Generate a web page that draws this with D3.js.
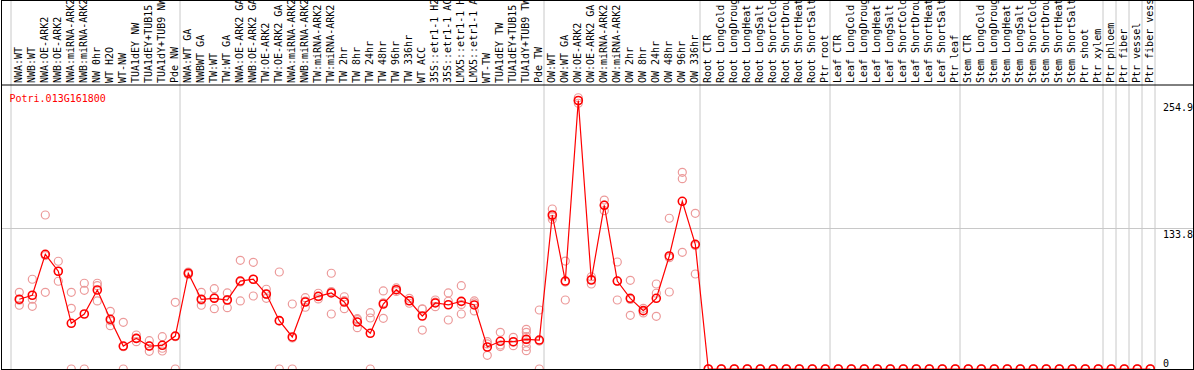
<!DOCTYPE html>
<html>
<head>
<meta charset="utf-8">
<script src="https://cdn.jsdelivr.net/npm/d3@7"></script>
<style>
body { margin: 0; background: #fff; }
svg { display: block; }
text { font-family: "DejaVu Sans Mono", monospace; font-size: 10px; }
</style>
</head>
<body>
<div id="chart"></div>
<script>
var W = 1194, H = 370;

var gene = "Potri.013G161800";

var labels = ["NWA:WT","NWB:WT","NWA:OE-ARK2","NWB:OE-ARK2","NWA:miRNA-ARK2","NWB:miRNA-ARK2","NW 0hr","WT H2O","WT-NW","TUA1dEY NW","TUA1dEY+TUB15","TUA1dY+TUB9 NW","Pde NW",
	"NWA:WT GA","NWBWT GA","TW:WT","TW:WT GA","NWA:OE-ARK2 GA","NWB:OE-ARK2 GA","TW:OE-ARK2","TW:OE-ARK2 GA","NWA:miRNA-ARK2","NWB:miRNA-ARK2","TW:miRNA-ARK2","TW:miRNA-ARK2","TW 2hr","TW 8hr","TW 24hr","TW 48hr","TW 96hr","TW 336hr","WT ACC","35S::etr1-1 H2","35S::etr1-1 AC","LMX5::etr1-1 H","LMX5::etr1-1 A","WT-TW","TUA1dEY TW","TUA1dEY+TUB15","TUA1dY+TUB9 TW","Pde TW",
	"OW:WT","OW:WT GA","OW:OE-ARK2","OW:OE-ARK2 GA","OW:miRNA-ARK2","OW:miRNA-ARK2","OW 2hr","OW 8hr","OW 24hr","OW 48hr","OW 96hr","OW 336hr",
	"Root CTR","Root LongCold","Root LongDroug","Root LongHeat","Root LongSalt","Root ShortCold","Root ShortDrou","Root ShortHeat","Root ShortSalt","Ptr root",
	"Leaf CTR","Leaf LongCold","Leaf LongDroug","Leaf LongHeat","Leaf LongSalt","Leaf ShortCold","Leaf ShortDrou","Leaf ShortHeat","Leaf ShortSalt","Ptr leaf",
	"Stem CTR","Stem LongCold","Stem LongDroug","Stem LongHeat","Stem LongSalt","Stem ShortCold","Stem ShortDrou","Stem ShortHeat","Stem ShortSalt","Ptr shoot","Ptr xylem","Ptr phloem","Ptr fiber","Ptr vessel","Ptr fiber vess"];

// index of first sample in each group (last = end)
var groupStarts = [0, 13, 41, 53, 63, 73, 84, 85, 86, 87, 88];

var means = [66.2,70.0,108.9,92.8,43.4,52.2,75.0,47.2,21.8,29.1,21.8,22.5,31.3,
	90.9,66.2,67.1,65.5,83.5,85.2,71.2,45.9,30.4,63.6,69.0,72.2,63.6,44.6,33.9,61.7,75.3,64.8,50.3,62.7,61.0,64.2,60.8,20.9,26.3,25.9,28.2,27.5,
	146.2,83.5,254.9,84.5,155.4,83.5,67.1,55.4,67.1,107.3,159.2,118.4,
	0,0,0,0,0,0,0,0,0,0,
	0,0,0,0,0,0,0,0,0,0,
	0,0,0,0,0,0,0,0,0,0,0,0,0,0,0];

var reps = [[72.8,65.3,60.5],[85.2,66.2,59.5],[146.2,107.7,72.8],[102.3,92.8,83.3],[72.8,57.6,0],[81.4,74.7,0],[81.4,79.1,64.6],[54.8,45.7,41.1],[44.3,21.1,0],[32.3,29,25.9],[26.9,21.8,16.8],[30.7,19.7,17.1],[63.3,30.7,0],
	[92,91,89.7],[72.8,65.3,60.5],[76.3,67.7,57.3],[72.2,66,58.2],[103.2,82.7,64.6],[101.3,85,69.3],[75.7,70.8,67.1],[92.1,45.6,0],[61.7,29.5,0],[67.7,64.5,58.6],[71.9,68.6,66.5],[90.9,73.5,52.2],[68.6,64.9,57.3],[47.8,46.8,39.2],[53.5,48.4,0],[74.1,62.9,48.1],[77,75.3,73.6],[67.1,64.9,62.4],[57.2,56.7,37.0],[65.5,63.4,59.2],[72.2,64.3,46.5],[79.1,61.3,52.2],[64.6,62.7,55.1],[25.9,23.8,13.0],[34.8,21.3,22.8],[30.1,25.5,22.1],[37.7,34.8,30.7,28.2,25.6,21.2,17.4],[56.0,26.5,0],
	[151.9,144.6,142.1],[102.5,82.5,65.5],[257.5,254.9,252.3],[87.6,85.2,80.7],[160.4,155.5,150.3],[101.6,83.4,65.5],[84.2,66.1,51.0],[57.6,55.4,53.2],[80.7,71.9,50.0],[143.1,105.7,73.1],[186.7,180.7,110.8],[147.8,117.2,90.2]];
while (reps.length < means.length) reps.push([0,0,0]);

var yTicks = [0, 133.8, 254.9];
var yGrid = [133.8];

var svg = d3.select("#chart").append("svg").attr("width", W).attr("height", H);

var x = d3.scaleBand().domain(d3.range(labels.length)).range([11, 1155]);
var y = d3.scaleLinear().domain([0, 254.9]).range([369, 100.5]);
function cx(i){ return x(i) + 8.3; }

// grid
svg.selectAll("line.vgrid").data(groupStarts).enter().append("line")
	.attr("class","vgrid")
	.attr("x1", function(d){ return d < labels.length ? x(d) : x.range()[1]; })
	.attr("x2", function(d){ return d < labels.length ? x(d) : x.range()[1]; })
	.attr("y1", 0).attr("y2", 369)
	.attr("stroke", "#c8c8c8");
svg.selectAll("line.hgrid").data(yGrid).enter().append("line")
	.attr("class","hgrid")
	.attr("x1", 1.5).attr("x2", 1193)
	.attr("y1", function(d){ return Math.round(y(d)) + 0.5; })
	.attr("y2", function(d){ return Math.round(y(d)) + 0.5; })
	.attr("stroke", "#c8c8c8");

// white behind header so grid only shows as in original
svg.append("line").attr("x1",1).attr("x2",1194).attr("y1",85).attr("y2",85).attr("stroke","#000");

// sample labels
svg.selectAll("text.lab").data(labels).enter().append("text")
	.attr("class","lab")
	.attr("transform", function(d,i){ return "translate(" + (cx(i) + 2.7) + ",83) rotate(-90)"; })
	.text(function(d){ return d; });

// replicate points
var repPts = [];
reps.forEach(function(r,i){ r.forEach(function(v){ repPts.push([i,v]); }); });
svg.selectAll("circle.rep").data(repPts).enter().append("circle")
	.attr("class","rep")
	.attr("cx", function(d){ return cx(d[0]); })
	.attr("cy", function(d){ return y(d[1]); })
	.attr("r", 4)
	.attr("fill","none").attr("stroke","#ec9a9a").attr("stroke-width",1.2);

// mean line + points
var line = d3.line().x(function(d,i){ return cx(i); }).y(function(d){ return y(d); });
svg.append("path").datum(means).attr("d", line)
	.attr("fill","none").attr("stroke","#ff0000").attr("stroke-width",1.2);
svg.selectAll("circle.mean").data(means).enter().append("circle")
	.attr("class","mean")
	.attr("cx", function(d,i){ return cx(i); })
	.attr("cy", function(d){ return y(d); })
	.attr("r", 4)
	.attr("fill","none").attr("stroke","#ff0000").attr("stroke-width",1.6);

// right axis
var axis = d3.axisRight(y).tickValues(yTicks).tickSize(0).tickFormat(function(d){ return String(d); });
var ag = svg.append("g").attr("transform","translate(1163,0)").call(axis);
ag.select(".domain").remove();
ag.selectAll("text")
	.attr("x", 0).attr("dy", null)
	.attr("y", function(d){ return d === 0 ? -3 : 9.5; })
	.attr("text-anchor","start")
	.attr("fill","#000")
	.style("font-family","'DejaVu Sans Mono', monospace").style("font-size","10px");

// gene name
svg.append("text").attr("x", 9.5).attr("y", 101.5).attr("fill", "#ff0000").text(gene);

// frame
svg.append("rect").attr("x",1.5).attr("y",0.5).attr("width",1192).attr("height",369)
	.attr("fill","none").attr("stroke","#000");
</script>
</body>
</html>
